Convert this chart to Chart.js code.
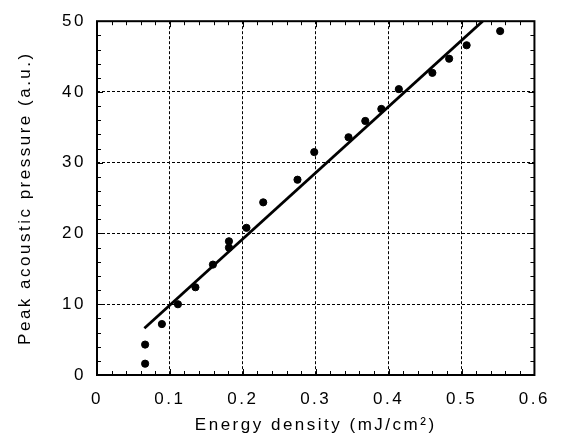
<!DOCTYPE html>
<html>
<head>
<meta charset="utf-8">
<script src="https://cdn.jsdelivr.net/npm/chart.js@4/dist/chart.umd.min.js"></script>
<style>
  html, body { margin: 0; padding: 0; background: #fff; }
  #wrap { width: 564px; height: 436px; }
</style>
</head>
<body>
<div id="wrap"><canvas id="chart"></canvas></div>
<script>
// measured energy density (mJ/cm²) vs peak acoustic pressure (a.u.)
const energyDensity = [0.066, 0.066, 0.089, 0.111, 0.135, 0.159, 0.181, 0.181, 0.205, 0.228,
                       0.275, 0.298, 0.345, 0.368, 0.390, 0.414, 0.460, 0.483, 0.507, 0.553];
const peakPressure  = [1.6, 4.3, 7.2, 10.0, 12.4, 15.6, 18.0, 18.9, 20.8, 24.4,
                       27.6, 31.5, 33.6, 35.9, 37.6, 40.4, 42.7, 44.7, 46.6, 48.6];

// linear fit end points
const fitX = [0.065, 0.529];
const fitY = [6.6, 50];

const xTicks = [0, 0.1, 0.2, 0.3, 0.4, 0.5, 0.6];
const yTicks = [0, 10, 20, 30, 40, 50];

const FONT = { family: "'Liberation Sans', Arial, sans-serif", size: 17 };

// canvas has no css letter-spacing, set it on the context before measuring/drawing
const spacing = {
  id: 'spacing',
  beforeLayout(chart) { chart.ctx.letterSpacing = '2.5px'; },
  beforeDraw(chart) { chart.ctx.letterSpacing = '2.5px'; }
};

// frame on all four sides with inward ticks
const frame = {
  id: 'frame',
  afterDraw(chart) {
    const { ctx, chartArea: a, scales: { x, y } } = chart;
    ctx.save();
    ctx.strokeStyle = '#000';
    ctx.lineWidth = 1;
    for (let v = 0; v <= 0.6001; v += 0.02) {
      const px = Math.round(x.getPixelForValue(v)) + 0.5;
      const major = Math.abs(v * 10 - Math.round(v * 10)) < 1e-6;
      const len = major ? 6 : 4;
      ctx.beginPath();
      ctx.moveTo(px, a.bottom); ctx.lineTo(px, a.bottom - len);
      ctx.moveTo(px, a.top); ctx.lineTo(px, a.top + len);
      ctx.stroke();
    }
    for (let v = 0; v <= 50; v += 2) {
      const py = Math.round(y.getPixelForValue(v)) + 0.5;
      const len = v % 10 === 0 ? 6 : 4;
      ctx.beginPath();
      ctx.moveTo(a.left, py); ctx.lineTo(a.left + len, py);
      ctx.moveTo(a.right, py); ctx.lineTo(a.right - len, py);
      ctx.stroke();
    }
    ctx.lineWidth = 2;
    ctx.strokeRect(a.left, a.top, a.right - a.left, a.bottom - a.top);
    ctx.restore();
  }
};

new Chart(document.getElementById('chart'), {
  type: 'scatter',
  data: {
    datasets: [
      {
        label: 'measured',
        data: energyDensity.map((e, i) => ({ x: e, y: peakPressure[i] })),
        backgroundColor: '#000',
        borderColor: '#000',
        pointRadius: 3.6,
        pointHoverRadius: 3.6
      },
      {
        label: 'fit',
        data: fitX.map((e, i) => ({ x: e, y: fitY[i] })),
        showLine: true,
        borderColor: '#000',
        borderWidth: 2.8,
        pointRadius: 0
      }
    ]
  },
  options: {
    responsive: true,
    maintainAspectRatio: false,
    animation: false,
    layout: { padding: { top: 20, right: 24, bottom: 0, left: 0 } },
    plugins: { legend: { display: false }, tooltip: { enabled: false } },
    scales: {
      x: {
        type: 'linear',
        min: 0, max: 0.6,
        afterBuildTicks(s) { s.ticks = xTicks.map(v => ({ value: v })); },
        afterFit(s) { s.height = 61; },
        border: { display: false, dash: [3, 2] },
        grid: { color: '#000', lineWidth: 1, drawTicks: false },
        ticks: { color: '#000', font: FONT, padding: 14, maxRotation: 0 },
        title: { display: true, text: 'Energy density (mJ/cm²)', color: '#000', font: FONT, padding: { top: 4, bottom: 0 } }
      },
      y: {
        type: 'linear',
        min: 0, max: 50,
        afterBuildTicks(s) { s.ticks = yTicks.map(v => ({ value: v })); },
        afterFit(s) { s.width = 97; },
        border: { display: false, dash: [3, 2] },
        grid: { color: '#000', lineWidth: 1, drawTicks: false },
        ticks: { color: '#000', font: FONT, padding: 11 },
        title: { display: true, text: 'Peak acoustic pressure (a.u.)', color: '#000', font: FONT, padding: { top: 15, bottom: 0 } }
      }
    }
  },
  plugins: [spacing, frame]
});
</script>
</body>
</html>
